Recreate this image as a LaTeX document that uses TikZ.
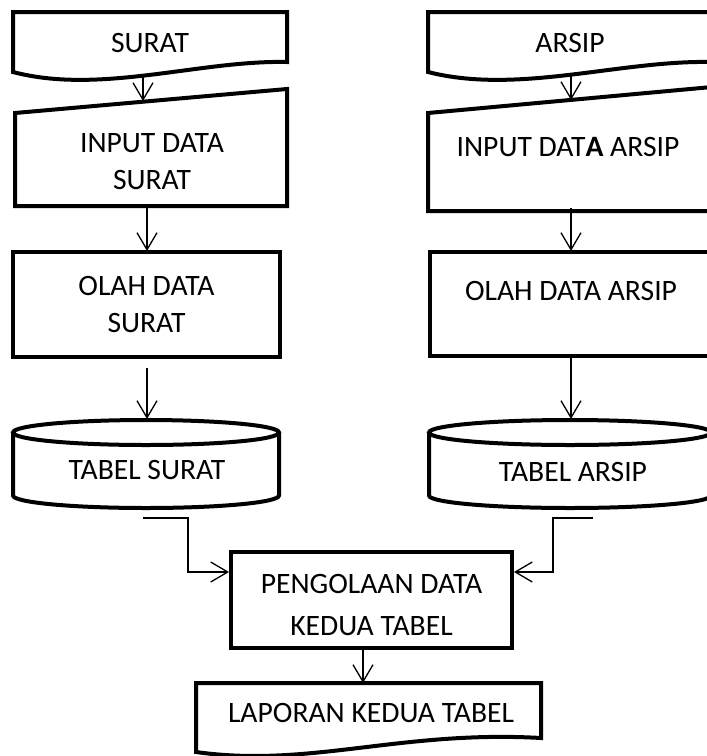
\documentclass[tikz,border=0pt]{standalone}
\usepackage{fontspec}
\setmainfont{Carlito}
\usetikzlibrary{arrows.meta, calc}

\begin{document}
\begin{tikzpicture}[x=0.5pt, y=-0.5pt, font=\fontsize{14.8}{18.5}\selectfont, every node/.style={align=center, inner sep=0pt}, shapeline/.style={line width=2pt, line join=miter}, procbox/.style={draw, shapeline}, flow/.style={->, line width=0.65pt}, >={Straight Barb[length=8.5pt, width=10pt]}]

	\useasboundingbox (0,0) rectangle (707,756);
	\clip (0,0) rectangle (707,756);

	% Kolom surat
	\draw[shapeline] (13,72) -- (13,12) -- (287,12) -- (287,62) .. controls (200,60) and (100,95) .. (13,72) -- cycle;
	\node (surat) at (150,43) {SURAT};
	\draw[shapeline] (15,113) -- (287,89) -- (287,206) -- (15,206) -- cycle;
	\node (insurat) at (152,161.5) {INPUT DATA\\SURAT};
	\node[procbox, minimum width=133.5pt, minimum height=52.5pt] (olahsurat) at (146.5,304.5) {OLAH DATA\\SURAT};
	\draw[shapeline] (13,432.5) -- (13,495.5) arc[start angle=180, end angle=360, x radius=66.5pt, y radius=6.25pt] -- (279,432.5);
	\draw[shapeline] (146,432.5) ellipse[x radius=66.5pt, y radius=6.25pt];
	\node (tsurat) at (147,470) {TABEL SURAT};

	% Kolom arsip
	\draw[shapeline] (428,72) -- (428,12) -- (712,12) -- (712,62) .. controls (620,60) and (518,95) .. (428,72) -- cycle;
	\node (arsip) at (570,43) {ARSIP};
	\draw[shapeline] (428,113) -- (712,87) -- (712,211) -- (428,211) -- cycle;
	\node (inarsip) at (568,147) {INPUT DAT\textbf{A} ARSIP};
	\node[procbox, minimum width=141pt, minimum height=52pt, text depth=13pt] (olaharsip) at (571,304) {OLAH DATA ARSIP};
	\draw[shapeline] (429,432.5) -- (429,495.5) arc[start angle=180, end angle=360, x radius=70.5pt, y radius=6.25pt] -- (711,432.5);
	\draw[shapeline] (570,432.5) ellipse[x radius=70.5pt, y radius=6.25pt];
	\node (tarsip) at (573,472) {TABEL ARSIP};

	% Gabungan
	\node[procbox, minimum width=140.5pt, minimum height=48pt, text height=35.5pt] (pengolaan) at (371.5,600) {PENGOLAAN DATA\\[2.5pt]KEDUA TABEL};
	\draw[shapeline] (196,752) -- (196,683) -- (541,683) -- (541,738) .. controls (400,730) and (310,768) .. (196,752) -- cycle;
	\node (laporan) at (371,713) {LAPORAN KEDUA TABEL};

	% Titik sambung
	\coordinate (surat-out) at (143,77);
	\coordinate (insurat-in) at (143,101);
	\coordinate (insurat-out) at (147,206);
	\coordinate (olahsurat-in) at (147,251);
	\coordinate (olahsurat-out) at (147,368);
	\coordinate (tsurat-in) at (147,419);
	\coordinate (tsurat-out) at (143,518);
	\coordinate (arsip-out) at (571,76);
	\coordinate (inarsip-in) at (571,100);
	\coordinate (inarsip-out) at (571,208);
	\coordinate (olaharsip-in) at (571,251);
	\coordinate (olaharsip-out) at (571,357);
	\coordinate (tarsip-in) at (571,419);
	\coordinate (tarsip-out) at (593,518);
	\coordinate (peng-l) at ($(pengolaan.north west)!0.22!(pengolaan.south west)$);
	\coordinate (peng-r) at ($(pengolaan.north east)!0.22!(pengolaan.south east)$);
	\coordinate (peng-out) at ($(pengolaan.south)+(-8.5,0)$);
	\coordinate (laporan-in) at (363,683);

	% Panah
	\draw[flow] (surat-out) -- (insurat-in);
	\draw[flow] (insurat-out) -- (olahsurat-in);
	\draw[flow] (olahsurat-out) -- (tsurat-in);
	\draw[flow] (arsip-out) -- (inarsip-in);
	\draw[flow] (inarsip-out) -- (olaharsip-in);
	\draw[flow] (olaharsip-out) -- (tarsip-in);
	\draw[flow] (tsurat-out) -- ++(45,0) |- (peng-l);
	\draw[flow] (tarsip-out) -- ++(-40,0) |- (peng-r);
	\draw[flow] (peng-out) -- (laporan-in);
\end{tikzpicture}
\end{document}
